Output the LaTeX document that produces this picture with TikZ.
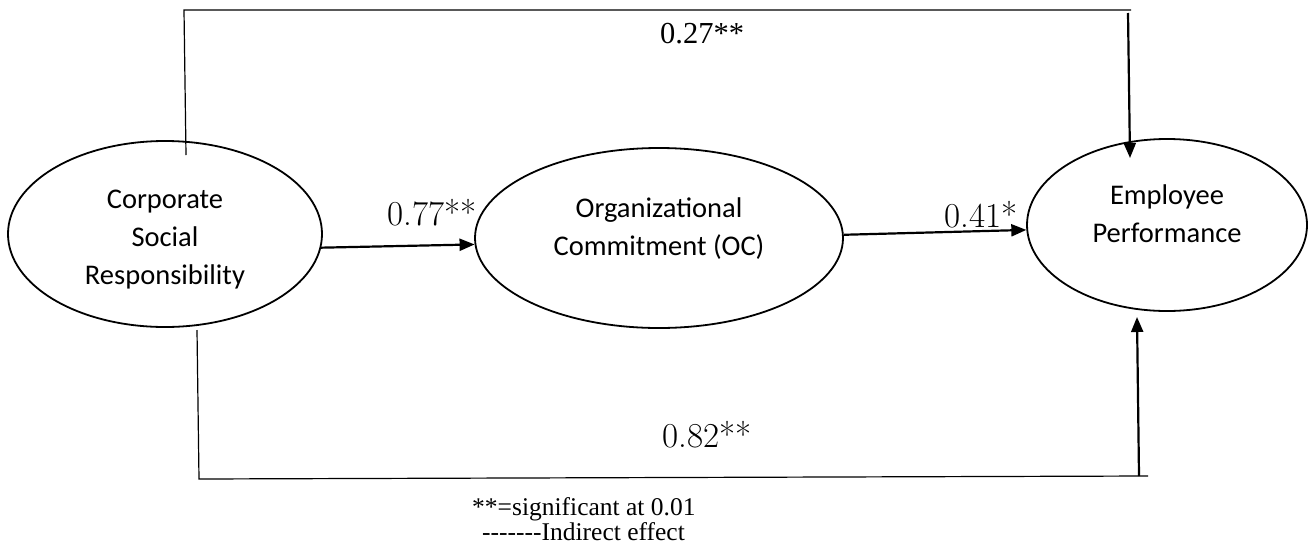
\documentclass[tikz,border=0pt]{standalone}
\usepackage{fontspec}
\usetikzlibrary{shapes.geometric,arrows.meta}
\newfontfamily\calib{Carlito}
\newfontfamily\tnr{Liberation Serif}
\tikzset{
  oval/.style={draw, ellipse, line width=1.8pt, inner sep=0pt},
  vartext/.style={font=\calib\fontsize{28.5}{38}\selectfont, align=center, inner sep=0pt},
  coef/.style={font=\fontsize{35}{35}\selectfont, anchor=base west, inner sep=0pt},
  coeftnr/.style={font=\tnr\fontsize{30.5}{30}\selectfont, anchor=base west, inner sep=0pt},
  note/.style={font=\tnr\fontsize{25.5}{25}\selectfont, anchor=base west, inner sep=0pt},
  arr/.style={line width=2.2pt, -{Triangle[length=15pt,width=12pt]}},
  frame/.style={line width=1.2pt}
}
\begin{document}
\begin{tikzpicture}[x=1pt,y=-1pt]
\useasboundingbox (0,0) rectangle (1311,552);
% variables
\node[oval, minimum width=314pt, minimum height=186pt] (csr) at (165,234) {};
\node[vartext] (csrt) at (165,240) {Corporate\\Social\\Responsibility};
\node[oval, minimum width=368pt, minimum height=180pt] (oc) at (659,238) {};
\node[vartext] (oct) at (659,229) {Organizational\\Commitment (OC)};
\node[oval, minimum width=280pt, minimum height=172pt] (ep) at (1167,225) {};
\node[vartext] (ept) at (1167,214) {Employee\\Performance};
% direct paths
\draw[arr] (csr.-5) -- (oc.182);
\draw[arr] (oc.1) -- (ep.182);
% top frame
\coordinate (ta) at (186,155);
\coordinate (tb) at (184,10);
\coordinate (tc) at (1131,10);
\coordinate (td) at (1128,13);
\coordinate (te) at (1130,158);
\draw[frame] (ta) -- (tb) -- (tc);
\draw[arr] (td) -- (te);
% bottom frame
\coordinate (ba) at (197,330);
\coordinate (bb) at (199,479);
\coordinate (bc) at (1148,476);
\coordinate (bd) at (1139,476);
\coordinate (be) at (1137,317);
\draw[frame] (ba) -- (bb) -- (bc);
\draw[arr] (bd) -- (be);
% coefficients
\node[coef] (l77) at (387,225) {0.77**};
\node[coef] (l41) at (944,227) {0.41*};
\node[coeftnr] (l27) at (660,43) {0.27**};
\node[coef] (l82) at (662,447) {0.82**};
% notes
\node[note] (n1) at (472,515) {**=significant at 0.01};
\node[note] (n2) at (482,540) {-------Indirect effect};
\end{tikzpicture}
\end{document}
